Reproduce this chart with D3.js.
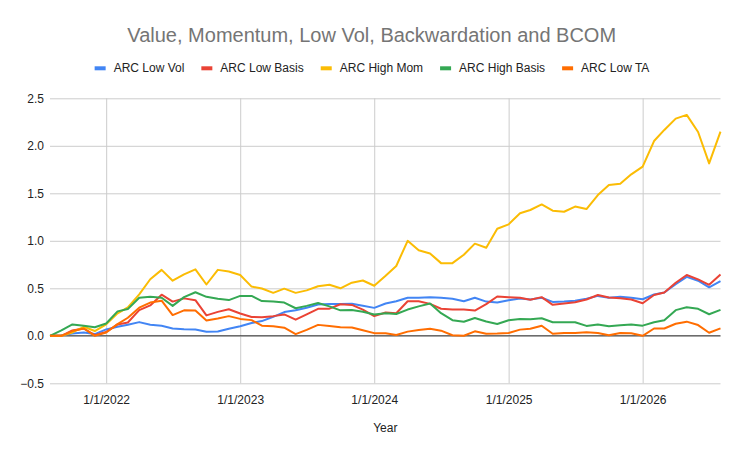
<!DOCTYPE html>
<html>
<head>
<meta charset="utf-8">
<script src="https://cdn.jsdelivr.net/npm/d3@7"></script>
<style>
  html, body { margin: 0; padding: 0; background: #fff; }
  svg { display: block; font-family: "Liberation Sans", Arial, sans-serif; }
</style>
</head>
<body>
<svg id="chart" width="743" height="458"></svg>
<script>
const months = ["2021-08","2021-09","2021-10","2021-11","2021-12",
"2022-01","2022-02","2022-03","2022-04","2022-05","2022-06","2022-07","2022-08","2022-09","2022-10","2022-11","2022-12",
"2023-01","2023-02","2023-03","2023-04","2023-05","2023-06","2023-07","2023-08","2023-09","2023-10","2023-11","2023-12",
"2024-01","2024-02","2024-03","2024-04","2024-05","2024-06","2024-07","2024-08","2024-09","2024-10","2024-11","2024-12",
"2025-01","2025-02","2025-03","2025-04","2025-05","2025-06","2025-07","2025-08","2025-09","2025-10","2025-11","2025-12",
"2026-01","2026-02","2026-03","2026-04","2026-05","2026-06","2026-07","2026-08"];

const lowVol = [0,0.005,0.025,0.035,0.018,0.067,0.095,0.116,0.144,0.116,0.106,0.077,0.07,0.066,0.043,0.045,0.074,
0.10,0.135,0.155,0.2,0.25,0.27,0.296,0.33,0.336,0.336,0.337,0.316,
0.294,0.34,0.364,0.40,0.40,0.407,0.40,0.39,0.364,0.40,0.36,0.35,
0.375,0.393,0.382,0.40,0.357,0.36,0.368,0.39,0.42,0.40,0.41,0.40,
0.385,0.435,0.456,0.544,0.62,0.58,0.51,0.576];

const lowBasis = [0,0,0.056,0.077,0.007,0.04,0.12,0.14,0.27,0.32,0.433,0.36,0.394,0.375,0.215,0.252,0.28,
0.235,0.198,0.196,0.207,0.225,0.17,0.226,0.284,0.286,0.332,0.325,0.275,
0.207,0.245,0.238,0.364,0.364,0.336,0.285,0.276,0.276,0.266,0.333,0.414,
0.407,0.40,0.38,0.407,0.326,0.34,0.354,0.382,0.43,0.403,0.396,0.382,
0.343,0.43,0.456,0.558,0.64,0.594,0.537,0.646];

const highMom = [0,0,0.035,0.095,0.05,0.12,0.236,0.30,0.437,0.595,0.694,0.58,0.646,0.70,0.54,0.694,0.676,
0.64,0.518,0.498,0.452,0.496,0.452,0.478,0.522,0.538,0.50,0.559,0.582,
0.527,0.632,0.735,1.0,0.90,0.867,0.765,0.765,0.853,0.97,0.927,1.127,
1.173,1.29,1.324,1.383,1.317,1.306,1.36,1.334,1.482,1.587,1.60,1.70,
1.78,2.05,2.167,2.286,2.325,2.145,1.815,2.149];

const highBasis = [0,0.057,0.12,0.105,0.09,0.13,0.257,0.283,0.40,0.41,0.40,0.315,0.407,0.458,0.41,0.39,0.376,
0.42,0.42,0.366,0.362,0.35,0.29,0.315,0.345,0.31,0.268,0.272,0.254,
0.224,0.238,0.23,0.276,0.31,0.34,0.238,0.164,0.148,0.188,0.15,0.125,
0.164,0.178,0.174,0.185,0.143,0.143,0.143,0.104,0.12,0.10,0.11,0.12,
0.107,0.143,0.164,0.27,0.30,0.284,0.227,0.273];

const lowTA = [0,0,0.05,0.077,0,0.035,0.123,0.19,0.296,0.35,0.37,0.218,0.268,0.267,0.162,0.182,0.207,
0.178,0.165,0.106,0.1,0.085,0.017,0.062,0.115,0.102,0.091,0.087,0.059,
0.028,0.026,0.009,0.044,0.062,0.074,0.054,0.006,0,0.047,0.022,0.023,
0.03,0.065,0.075,0.106,0.022,0.03,0.03,0.038,0.029,0.006,0.03,0.027,
0,0.077,0.077,0.127,0.149,0.113,0.032,0.078];

const seriesNames = ["ARC Low Vol","ARC Low Basis","ARC High Mom","ARC High Basis","ARC Low TA"];
const seriesValues = [lowVol, lowBasis, highMom, highBasis, lowTA];
const seriesColors = ["#4285F4","#EA4335","#FBBC04","#34A853","#FF6D01"];
const yTicks = [-0.5,0,0.5,1,1.5,2,2.5];
const xTickLabels = ["1/1/2022","1/1/2023","1/1/2024","1/1/2025","1/1/2026"];
const titleText = "Value, Momentum, Low Vol, Backwardation and BCOM";
const xAxisTitle = "Year";

const svg = d3.select("#chart");
const W = 743, H = 458;
const plot = {left: 50, right: 720.5, top: 98.3, bottom: 383.3};

const parseMonth = d3.timeParse("%Y-%m");
const parseTick = d3.timeParse("%m/%d/%Y");
const dates = months.map(parseMonth);

const x = d3.scaleTime()
  .domain([dates[0], dates[dates.length - 1]])
  .range([plot.left, plot.right]);
const y = d3.scaleLinear()
  .domain([-0.5, 2.5])
  .range([plot.bottom, plot.top]);

// horizontal grid + y labels
const yAxis = d3.axisLeft(y)
  .tickValues(yTicks)
  .tickSize(-(plot.right - plot.left))
  .tickPadding(6)
  .tickFormat(d3.format(".1f"));
const gy = svg.append("g")
  .attr("transform", `translate(${plot.left},0)`)
  .call(yAxis);
gy.select(".domain").remove();
gy.selectAll(".tick line").attr("stroke", "#cccccc").attr("stroke-width", 1);
gy.selectAll(".tick text")
  .attr("fill", "#222222")
  .attr("font-size", 12)
  .attr("font-family", "Liberation Sans, Arial, sans-serif")
  .attr("x", -6);

// vertical grid + x labels
const xTickDates = xTickLabels.map(parseTick);
const xAxis = d3.axisBottom(x)
  .tickValues(xTickDates)
  .tickSize(-(plot.bottom - plot.top))
  .tickPadding(12)
  .tickFormat(d => xTickLabels[xTickDates.findIndex(t => +t === +d)]);
const gx = svg.append("g")
  .attr("transform", `translate(0,${plot.bottom})`)
  .call(xAxis);
gx.select(".domain").remove();
gx.selectAll(".tick line").attr("stroke", "#cccccc").attr("stroke-width", 1);
gx.selectAll(".tick text")
  .attr("fill", "#222222")
  .attr("font-size", 12)
  .attr("font-family", "Liberation Sans, Arial, sans-serif");

// zero line
svg.append("line")
  .attr("x1", plot.left).attr("x2", plot.right)
  .attr("y1", y(0)).attr("y2", y(0))
  .attr("stroke", "#333333").attr("stroke-width", 1);

// lines
const line = d3.line()
  .x((d, i) => x(dates[i]))
  .y(d => y(d));
seriesValues.forEach((vals, k) => {
  svg.append("path")
    .datum(vals)
    .attr("fill", "none")
    .attr("stroke", seriesColors[k])
    .attr("stroke-width", 2)
    .attr("stroke-linejoin", "round")
    .attr("d", line);
});

// title
svg.append("text")
  .attr("x", 371.7).attr("y", 41.7)
  .attr("text-anchor", "middle")
  .attr("font-size", 20)
  .attr("fill", "#757575")
  .text(titleText);

// legend
const legend = svg.append("g");
let cx = 0;
const items = [];
seriesNames.forEach((name, k) => {
  const g = legend.append("g");
  g.append("rect").attr("x", 0).attr("y", -6).attr("width", 11).attr("height", 4)
    .attr("fill", seriesColors[k]);
  const t = g.append("text").attr("x", 19).attr("y", 0)
    .attr("font-size", 12).attr("fill", "#222222").text(name);
  const w = 19 + t.node().getComputedTextLength();
  items.push({g, w});
});
const gap = 17;
const total = items.reduce((s, it) => s + it.w, 0) + gap * (items.length - 1);
let pos = 372 - total / 2;
items.forEach(it => {
  it.g.attr("transform", `translate(${pos},72.3)`);
  pos += it.w + gap;
});

// x axis title
svg.append("text")
  .attr("x", (plot.left + plot.right) / 2).attr("y", 432.3)
  .attr("text-anchor", "middle")
  .attr("font-size", 12)
  .attr("fill", "#222222")
  .text(xAxisTitle);
</script>
</body>
</html>
